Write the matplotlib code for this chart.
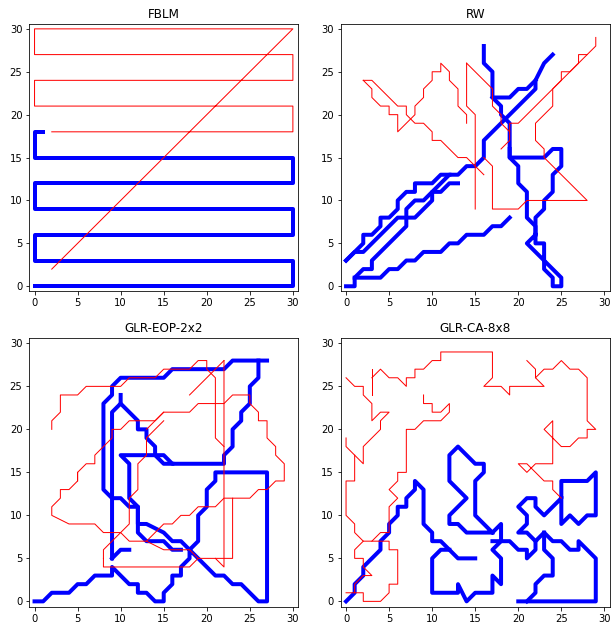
import numpy as np
import matplotlib
matplotlib.use("Agg")
import matplotlib.pyplot as plt

# grid paths, one list of (x, y) cells per stroke
fblm_blue = [[(0, 0), (30, 0), (30, 3), (0, 3), (0, 6), (30, 6), (30, 9), (0, 9), (0, 12),
              (30, 12), (30, 15), (0, 15), (0, 18), (1, 18)]]
fblm_red = [[(2, 18), (30, 18), (30, 21), (0, 21), (0, 24), (30, 24), (30, 27), (0, 27),
             (0, 30), (30, 30), (2, 2)]]

rw_blue = [
    [(0, 0), (1, 0), (1, 1), (2, 2), (3, 2), (3, 3), (7, 7), (7, 9), (8, 10), (9, 10), (12, 13),
     (13, 13), (14, 14), (15, 14), (16, 15), (16, 17), (17, 18), (18, 19), (20, 21), (21, 22),
     (22, 23), (22, 24), (23, 26), (24, 27)],
    [(0, 3), (2, 5), (2, 6), (3, 6), (4, 7), (4, 8), (5, 8), (6, 9), (6, 10), (7, 11), (8, 11),
     (8, 12), (10, 12), (11, 13), (12, 13)],
    [(0, 3), (1, 4), (2, 4), (3, 5), (4, 6), (5, 7), (6, 8), (8, 8), (9, 9), (10, 10), (10, 11),
     (11, 11), (12, 12), (13, 12)],
    [(1, 1), (4, 1), (5, 2), (6, 2), (7, 3), (8, 3), (9, 4), (11, 4), (12, 5), (13, 5), (14, 6),
     (16, 6), (17, 7), (18, 7), (19, 8)],
    [(16, 28), (16, 26), (17, 25), (17, 22), (19, 22), (20, 23), (21, 23), (22, 24)],
    [(17, 22), (18, 21), (18, 20), (19, 19), (19, 15), (23, 15), (24, 16), (25, 16), (25, 14),
     (24, 13), (24, 11), (23, 10), (23, 9), (22, 8), (22, 6), (21, 5), (23, 3), (23, 2),
     (24, 1), (24, 0), (25, 0), (25, 1), (23, 3), (23, 5), (22, 5), (22, 6)],
    [(19, 16), (19, 15), (20, 14), (20, 12), (21, 11), (21, 8), (22, 7), (22, 6)],
]
rw_red = [
    [(29, 29), (29, 28), (28, 27), (27, 27), (27, 26), (26, 25), (25, 25), (25, 24), (24, 23),
     (24, 21), (23, 20), (22, 19), (22, 17), (23, 16), (23, 15), (24, 14), (28, 10), (21, 10),
     (20, 9), (17, 9), (17, 14), (16, 15)],
    [(28, 27), (20, 19), (19, 19), (19, 17), (18, 16)],
    [(2, 24), (3, 24), (6, 21), (7, 21), (7, 20), (8, 19), (9, 19), (10, 18), (10, 17), (11, 17),
     (13, 15), (14, 15), (15, 14), (16, 13)],
    [(2, 24), (3, 23), (3, 22), (4, 21), (5, 21), (5, 20), (6, 20), (6, 18), (7, 19), (8, 20),
     (8, 21), (9, 22), (9, 23), (10, 24), (10, 25), (11, 25), (11, 26), (12, 25), (12, 24),
     (13, 23), (13, 21), (14, 20), (14, 19)],
    [(14, 26), (14, 21), (15, 20), (15, 9)],
    [(14, 26), (17, 23), (17, 21), (18, 20), (18, 19), (19, 18)],
]

eop_blue = [
    [(0, 0), (1, 0), (2, 1), (4, 1), (5, 2), (6, 2), (7, 3), (9, 3), (9, 4), (11, 2), (12, 2),
     (12, 1), (13, 1), (14, 0), (15, 0), (15, 1), (16, 2), (16, 3), (17, 3), (17, 4), (18, 5),
     (18, 6), (19, 7), (19, 10), (20, 11), (20, 13), (21, 14), (21, 15), (27, 15), (27, 0),
     (26, 0), (24, 2), (23, 2), (22, 3), (21, 3), (20, 4), (19, 5), (18, 6), (17, 7), (16, 7),
     (15, 8), (13, 9), (12, 9), (12, 11), (11, 11), (10, 12), (9, 12), (8, 13), (8, 23),
     (9, 24), (9, 25), (10, 26), (15, 26), (16, 27), (22, 27), (23, 28), (27, 28)],
    [(26, 28), (26, 26), (25, 25), (25, 23), (24, 22), (24, 21), (23, 20), (23, 18), (22, 17),
     (22, 16), (16, 16), (15, 17), (10, 17), (11, 16), (11, 12), (12, 11), (12, 8), (13, 7),
     (15, 7), (16, 6), (17, 6)],
    [(9, 5), (9, 22), (10, 23), (10, 24)],
    [(10, 23), (11, 22), (12, 21), (12, 20), (13, 20), (13, 19), (14, 18), (14, 17), (15, 16),
     (16, 16)],
    [(9, 5), (10, 6), (11, 6)],
]
eop_red = [
    [(2, 20), (2, 21), (3, 22), (3, 24), (5, 24), (6, 25), (10, 25), (11, 26), (14, 26),
     (15, 27), (18, 27), (19, 28), (20, 28), (20, 27), (21, 26), (21, 19), (22, 18)],
    [(22, 28), (22, 4), (21, 5)],
    [(18, 24), (22, 28)],
    [(8, 5), (8, 4), (18, 4), (19, 5), (23, 5), (23, 12), (25, 12), (26, 13), (27, 13), (28, 14),
     (29, 14), (29, 16), (28, 17), (28, 18), (27, 19), (27, 21), (26, 21), (26, 22), (25, 23),
     (25, 24), (23, 24), (22, 23), (19, 23), (18, 22), (15, 22), (13, 20)],
    [(5, 15), (5, 14), (4, 13), (3, 13), (3, 12), (2, 11), (2, 10), (4, 9), (7, 9), (8, 8),
     (10, 8), (11, 7), (13, 7), (14, 8), (15, 9), (16, 9), (17, 10), (18, 10), (19, 11),
     (21, 11), (22, 12), (23, 12)],
    [(5, 14), (5, 15), (6, 16), (7, 16), (7, 17), (9, 19), (9, 20), (10, 20), (11, 21), (14, 21),
     (15, 22)],
    [(15, 21), (13, 19), (13, 17), (12, 16), (12, 13), (11, 12), (11, 9), (9, 7), (8, 6), (8, 5)],
    [(13, 7), (15, 6), (18, 6), (19, 5)],
]

ca_blue = [
    [(0, 0), (1, 1), (1, 2), (2, 3), (2, 4), (4, 6), (4, 7), (5, 8), (5, 9), (6, 10), (6, 11),
     (7, 11), (7, 12), (8, 13), (8, 14), (9, 13), (9, 9), (10, 8), (10, 7), (11, 7), (12, 6),
     (13, 5), (15, 5)],
    [(12, 6), (11, 6), (10, 5), (10, 1), (13, 1), (13, 2), (14, 0), (15, 1), (17, 1), (17, 3),
     (18, 2), (18, 5), (17, 6), (18, 7), (18, 9), (17, 8), (16, 9), (15, 10), (15, 14),
     (16, 15), (16, 16), (15, 16), (14, 17), (13, 18), (12, 17), (12, 14), (14, 12), (12, 10),
     (12, 9), (13, 9), (14, 8), (17, 8)],
    [(17, 7), (19, 7), (20, 6), (21, 6), (21, 5), (22, 6), (22, 7), (23, 8), (24, 7), (25, 7),
     (26, 6), (27, 6), (27, 7), (29, 5), (29, 0), (20, 0)],
    [(21, 0), (22, 1), (22, 2), (23, 3), (24, 3), (24, 5), (23, 6), (23, 8)],
    [(22, 7), (21, 8), (20, 8), (21, 9), (21, 10), (20, 11), (21, 12), (22, 12), (22, 11),
     (23, 10), (25, 12), (25, 14), (28, 14), (29, 15), (29, 10), (28, 10), (27, 9), (26, 10),
     (25, 9), (25, 12)],
]
ca_red = [
    [(0, 26), (1, 25), (2, 25), (2, 24), (3, 23), (3, 21), (4, 22), (5, 22), (4, 21), (4, 20),
     (2, 18), (2, 16), (1, 17), (0, 18), (0, 19)],
    [(1, 17), (1, 14), (0, 14), (0, 10), (1, 9), (1, 8), (2, 7), (3, 7), (5, 7), (5, 6), (6, 6),
     (6, 2), (5, 2), (5, 1), (4, 0), (2, 0), (2, 1), (0, 1)],
    [(2, 7), (1, 6), (1, 5), (2, 5), (2, 4), (3, 3), (2, 3), (1, 2), (1, 1)],
    [(3, 7), (4, 8), (5, 8), (5, 11), (6, 12), (5, 13), (6, 14), (6, 15), (7, 15), (7, 20),
     (8, 20), (9, 21), (11, 21), (12, 22), (12, 23), (11, 22), (10, 22), (10, 23), (9, 23),
     (9, 24)],
    [(3, 24), (3, 27)],
    [(3, 26), (4, 27), (5, 26), (6, 26), (7, 25), (7, 26), (8, 26), (8, 27), (9, 27), (10, 28),
     (11, 28), (11, 29), (17, 29), (17, 26), (16, 25), (18, 25), (19, 24), (19, 25), (23, 25),
     (22, 26), (22, 27), (21, 28)],
    [(22, 26), (23, 27), (24, 27), (25, 28), (26, 27), (27, 27), (28, 26), (28, 21), (29, 20),
     (28, 20), (28, 19), (27, 19), (26, 18), (25, 18), (23, 20), (24, 21), (24, 16), (22, 16),
     (21, 15), (20, 16), (21, 16), (22, 15), (23, 14), (24, 14), (24, 13), (25, 12)],
]

titles = ["FBLM", "RW", "GLR-EOP-2x2", "GLR-CA-8x8"]
blue_paths = [fblm_blue, rw_blue, eop_blue, ca_blue]
red_paths = [fblm_red, rw_red, eop_red, ca_red]

# 612 x 624 px at 72 dpi
fig = plt.figure(figsize=(8.5, 624 / 72), dpi=72)
boxes = [[0.048, 0.533, 0.439, 0.429], [0.557, 0.533, 0.439, 0.429],
         [0.048, 0.028, 0.439, 0.430], [0.557, 0.028, 0.439, 0.430]]

for box, title, blues, reds in zip(boxes, titles, blue_paths, red_paths):
    ax = fig.add_axes(box)
    for path in blues:
        p = np.array(path)
        ax.plot(p[:, 0], p[:, 1], color="blue", linewidth=4)
    for path in reds:
        p = np.array(path)
        ax.plot(p[:, 0], p[:, 1], color="red", linewidth=1)
    ax.set_xlim(-0.6, 30.6)
    ax.set_ylim(-0.6, 30.6)
    ax.set_xticks([0, 5, 10, 15, 20, 25, 30])
    ax.set_yticks([0, 5, 10, 15, 20, 25, 30])
    ax.set_title(title)

plt.savefig("out.png", dpi=72)
